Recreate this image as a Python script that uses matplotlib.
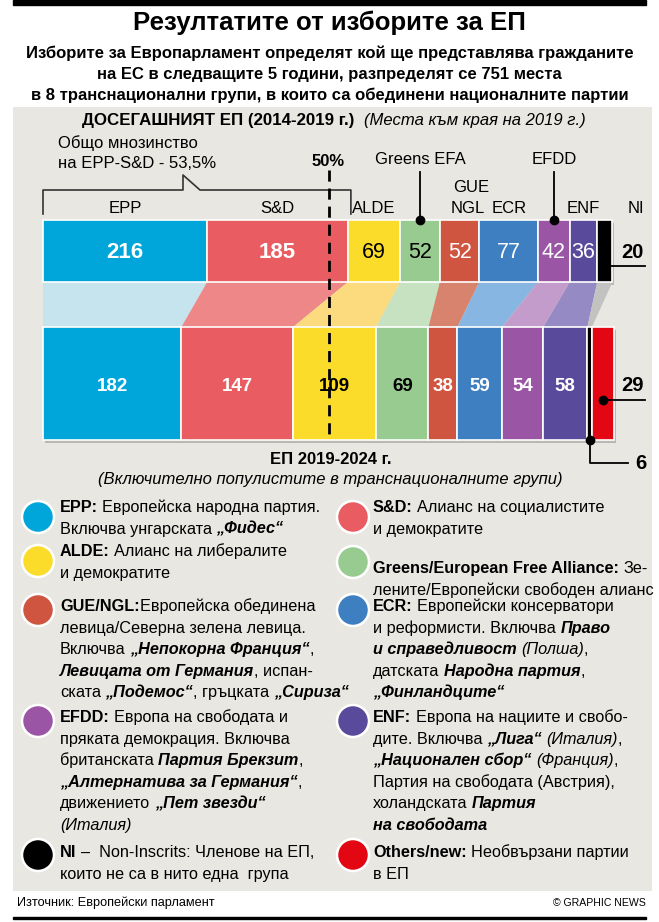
import matplotlib
matplotlib.use('Agg')
import matplotlib.pyplot as plt
from matplotlib.patches import Rectangle, Circle, Polygon
from matplotlib import font_manager as fm
import numpy as np

# ---- data ----
parties = ['EPP', 'S&D', 'ALDE', 'Greens EFA', 'GUE NGL', 'ECR', 'EFDD', 'ENF', 'NI', 'Others']
seats_old = [216, 185, 69, 52, 52, 77, 42, 36, 20]          # 2014-2019 (end of 2019)
seats_new = [182, 147, 109, 69, 38, 59, 54, 58, 6, 29]      # 2019-2024
total_seats = 751

title = 'Резултатите от изборите за ЕП'
subtitle = ['Изборите за Европарламент определят кой ще представлява гражданите',
            'на ЕС в следващите 5 години, разпределят се 751 места',
            'в 8 транснационални групи, в които са обединени националните партии']

# legend texts: runs of (text, style)  n=normal b=bold i=italic bi=bold italic
legend_left = [
    ('EPP', [[('EPP:', 'b'), (' Европейска народна партия.', 'n')],
             [('Включва унгарската ', 'n'), ('„Фидес“', 'bi')]]),
    ('ALDE', [[('ALDE:', 'b'), (' Алианс на либералите', 'n')],
              [('и демократите', 'n')]]),
    ('GUE NGL', [[('GUE/NGL:', 'b'), ('Европейска обединена', 'n')],
                 [('левица/Северна зелена левица.', 'n')],
                 [('Включва ', 'n'), ('„Непокорна Франция“', 'bi'), (',', 'n')],
                 [('Левицата от Германия', 'bi'), (', испан-', 'n')],
                 [('ската ', 'n'), ('„Подемос“', 'bi'), (', гръцката ', 'n'), ('„Сириза“', 'bi')]]),
    ('EFDD', [[('EFDD:', 'b'), (' Европа на свободата и', 'n')],
              [('пряката демокрация. Включва', 'n')],
              [('британската ', 'n'), ('Партия Брекзит', 'bi'), (',', 'n')],
              [('„Алтернатива за Германия“', 'bi'), (',', 'n')],
              [('движението ', 'n'), ('„Пет звезди“', 'bi')],
              [('(Италия)', 'i')]]),
    ('NI', [[('NI', 'b'), (' –  Non-Inscrits: Членове на ЕП,', 'n')],
            [('които не са в нито една  група', 'n')]]),
]
legend_right = [
    ('S&D', [[('S&D:', 'b'), (' Алианс на социалистите', 'n')],
             [('и демократите', 'n')]]),
    ('Greens EFA', [[('Greens/European Free Alliance:', 'b'), (' Зе-', 'n')],
                    [('лените/Европейски свободен алианс', 'n')]]),
    ('ECR', [[('ECR:', 'b'), (' Европейски консерватори', 'n')],
             [('и реформисти. Включва ', 'n'), ('Право', 'bi')],
             [('и справедливост', 'bi'), (' (Полша)', 'i'), (',', 'n')],
             [('датската ', 'n'), ('Народна партия', 'bi'), (',', 'n')],
             [('„Финландците“', 'bi')]]),
    ('ENF', [[('ENF:', 'b'), (' Европа на нациите и свобо-', 'n')],
             [('дите. Включва ', 'n'), ('„Лига“', 'bi'), (' (Италия)', 'i'), (',', 'n')],
             [('„Национален сбор“', 'bi'), (' (Франция)', 'i'), (',', 'n')],
             [('Партия на свободата (Австрия),', 'n')],
             [('холандската ', 'n'), ('Партия', 'bi')],
             [('на свободата', 'bi')]]),
    ('Others', [[('Others/new:', 'b'), (' Необвързани партии', 'n')],
                [('в ЕП', 'n')]]),
]

# ---- styles ----
colors = ['#00a6da', '#e95c61', '#fbdc2a', '#98cb8f', '#cf5540', '#3e7fc2',
          '#9a56a5', '#5a4a9b', '#000000', '#e30613']
ribbon_colors = ['#c5e4ee', '#ee8888', '#fcda7e', '#c6e2c0', '#d7836d', '#88b6e2',
                 '#c49ccb', '#958ac3', '#c2c2c0']
panel_color = '#e8e7e1'

try:
    fm.findfont('Liberation Sans Narrow', fallback_to_default=False)
    FAM = ['Liberation Sans Narrow', 'DejaVu Sans']
except Exception:
    FAM = ['Liberation Sans', 'DejaVu Sans']
plt.rcParams['font.family'] = FAM

W, H = 659, 922
fig = plt.figure(figsize=(W / 100, H / 100), dpi=100)
ax = fig.add_axes([0, 0, 1, 1])
ax.set_xlim(0, W)
ax.set_ylim(H, 0)
ax.axis('off')

# bar axes: x in seats, y in pixels
BX0, BX1 = 43, 614
bx = fig.add_axes([BX0 / W, 0, (BX1 - BX0) / W, 1], zorder=2)
bx.set_xlim(0, total_seats)
bx.set_ylim(H, 0)
bx.axis('off')
spp = total_seats / (BX1 - BX0)   # seats per pixel


def s(px):
    return (px - BX0) * spp


# frame
ax.add_patch(Rectangle((13, 0), 633, 5, color='black'))
ax.add_patch(Rectangle((13, 107), 639, 784, color=panel_color, lw=0))
ax.add_patch(Rectangle((13, 917), 633, 2, color='black'))

ax.text(W / 2, 23, title, ha='center', va='center', fontsize=18.5, fontweight='bold')
for i, line in enumerate(subtitle):
    ax.text(W / 2, 53 + i * 21, line, ha='center', va='center', fontsize=12, fontweight='bold')

ax.text(17, 903, 'Източник: Европейски парламент', ha='left', va='center', fontsize=9.2)
ax.text(646, 903, '© GRAPHIC NEWS', ha='right', va='center', fontsize=7.6)

# headers
renderer = fig.canvas.get_renderer()
t = ax.text(82, 120, 'ДОСЕГАШНИЯТ ЕП (2014-2019 г.)', ha='left', va='center',
            fontsize=12.2, fontweight='bold')
x_end = 82 + t.get_window_extent(renderer).width
ax.text(x_end + 10, 120, '(Места към края на 2019 г.)', ha='left', va='center',
        fontsize=12, fontstyle='italic')
ax.text(W / 2 + 1, 459, 'ЕП 2019-2024 г.', ha='center', va='center', fontsize=12, fontweight='bold')
ax.text(W / 2 + 1, 479, '(Включително популистите в транснационалните групи)', ha='center',
        va='center', fontsize=12, fontstyle='italic')

# ---- bars ----
old_left = np.concatenate([[0], np.cumsum(seats_old)[:-1]])
new_left = np.concatenate([[0], np.cumsum(seats_new)[:-1]])
TOP_Y0, TOP_Y1 = 220, 282
BOT_Y0, BOT_Y1 = 327, 440

# shadows
bx.barh((TOP_Y0 + TOP_Y1) / 2 + 3, sum(seats_old), height=TOP_Y1 - TOP_Y0, left=2 * spp,
        color='#b9b8b2', lw=0, clip_on=False, zorder=1)
bx.barh((BOT_Y0 + BOT_Y1) / 2 + 3, sum(seats_new), height=BOT_Y1 - BOT_Y0, left=2 * spp,
        color='#b9b8b2', lw=0, clip_on=False, zorder=1)

# ribbons between the two bars
for i in range(len(seats_old)):
    poly = Polygon([(old_left[i], TOP_Y1), (old_left[i] + seats_old[i], TOP_Y1),
                    (new_left[i] + seats_new[i], BOT_Y0), (new_left[i], BOT_Y0)],
                   closed=True, fc=ribbon_colors[i], ec='none', zorder=2 + i * 0.01)
    bx.add_patch(poly)

bx.barh((TOP_Y0 + TOP_Y1) / 2, seats_old, height=TOP_Y1 - TOP_Y0, left=old_left,
        color=colors[:len(seats_old)], edgecolor='white', lw=1.2, zorder=3, clip_on=False)
bx.barh((BOT_Y0 + BOT_Y1) / 2, seats_new, height=BOT_Y1 - BOT_Y0, left=new_left,
        color=colors, edgecolor='white', lw=1.2, zorder=3, clip_on=False)

# numbers in top bar
old_txt_col = ['white', 'white', 'black', 'black', 'white', 'white', 'white', 'white']
old_bold = [True, True, False, False, False, False, False, False]
for i in range(8):
    bx.text(old_left[i] + seats_old[i] / 2, 252, str(seats_old[i]), ha='center', va='center',
            fontsize=16 if old_bold[i] else 15.5, color=old_txt_col[i],
            fontweight='bold' if old_bold[i] else 'normal', zorder=5)
new_txt_col = ['white', 'white', 'black', 'black', 'white', 'white', 'white', 'white']
for i in range(8):
    bx.text(new_left[i] + seats_new[i] / 2, 386, str(seats_new[i]), ha='center', va='center',
            fontsize=13.5, color=new_txt_col[i], fontweight='bold', zorder=5)

# party labels over top bar
lab_fs = 12
for i in [0, 1, 2, 5, 7]:
    bx.text(old_left[i] + seats_old[i] / 2, 208, parties[i], ha='center', va='center', fontsize=lab_fs)
bx.text(old_left[4] + seats_old[4] / 2 + 12 * spp, 188, 'GUE', ha='center', va='center', fontsize=lab_fs)
bx.text(old_left[4] + seats_old[4] / 2 + 8 * spp, 208, 'NGL', ha='center', va='center', fontsize=lab_fs)
bx.text(s(636), 208, parties[8], ha='center', va='center', fontsize=lab_fs)
for i, name in [(3, 'Greens EFA'), (6, 'EFDD')]:
    xc = old_left[i] + seats_old[i] / 2
    bx.text(xc, 160, name, ha='center', va='center', fontsize=lab_fs)
    bx.plot([xc, xc], [172, TOP_Y0], color='black', lw=1.3, zorder=6, clip_on=False)
    bx.plot(xc, TOP_Y0, 'o', color='black', ms=6, zorder=6, clip_on=False)

# NI (old) pointer and label
xc = old_left[8] + seats_old[8] / 2
bx.plot([xc, s(645)], [266, 266], color='black', lw=1.3, zorder=6, clip_on=False)
bx.plot(xc, 266, 'o', color='black', ms=6, zorder=6, clip_on=False)
bx.text(s(632), 252, str(seats_old[8]), ha='center', va='center', fontsize=14.5, fontweight='bold')

# Others (new) pointer and label
xc = new_left[9] + seats_new[9] / 2
bx.plot([xc, s(645)], [400, 400], color='black', lw=1.3, zorder=6, clip_on=False)
bx.plot(xc, 400, 'o', color='black', ms=6, zorder=6, clip_on=False)
bx.text(s(632), 385, str(seats_new[9]), ha='center', va='center', fontsize=14.5, fontweight='bold')

# NI (new) pointer and label
xc = new_left[8] + seats_new[8] / 2
bx.plot([xc, xc, s(628)], [BOT_Y1, 463, 463], color='black', lw=1.3, zorder=6, clip_on=False)
bx.plot(xc, BOT_Y1, 'o', color='black', ms=6, zorder=6, clip_on=False)
bx.text(s(641), 463, str(seats_new[8]), ha='center', va='center', fontsize=14.5, fontweight='bold')

# 50% line
half = total_seats / 2
bx.plot([half, half], [170, BOT_Y1], color='black', lw=2, dashes=(4, 2.5), zorder=7, clip_on=False)
bx.text(half, 161, '50%', ha='center', va='center', fontsize=12, fontweight='bold')

# EPP-S&D bracket
x_l, x_r = 0, seats_old[0] + seats_old[1]
bx.plot([x_l, x_l, s(183), s(183), s(200), x_r + 3 * spp, x_r + 3 * spp],
        [214, 190, 190, 175, 190, 190, 214], color='#333333', lw=1.2, clip_on=False, zorder=4)
ax.text(58, 143, 'Общо мнозинство', ha='left', va='center', fontsize=12)
ax.text(58, 163, 'на EPP-S&D - 53,5%', ha='left', va='center', fontsize=12)

# ---- legend ----
LEG_FS = 11.7
space_w = {}


def font_kw(st):
    return dict(fontweight='bold' if 'b' in st else 'normal',
                fontstyle='italic' if 'i' in st else 'normal', fontsize=LEG_FS)


def width_of(txt, st):
    tt = ax.text(0, 0, txt, **font_kw(st))
    w = tt.get_window_extent(renderer).width
    tt.remove()
    return w


def sp(st):
    if st not in space_w:
        space_w[st] = width_of('x x', st) - width_of('xx', st)
    return space_w[st]


def draw_runs(x, yb, runs):
    for txt, st in runs:
        lead = len(txt) - len(txt.lstrip(' '))
        trail = len(txt) - len(txt.rstrip(' '))
        core = txt.strip(' ')
        x += lead * sp(st)
        if core:
            tt = ax.text(x, yb, core, ha='left', va='baseline', **font_kw(st))
            x += tt.get_window_extent(renderer).width
        x += trail * sp(st)


col_idx = {p: i for i, p in enumerate(parties)}
left_y = [507, 551, 606, 717, 852]
left_cy = [517, 561, 610, 721, 855]
right_y = [507, 568, 606, 717, 852]
right_cy = [517, 562, 610, 721, 855]
LINE_H = 21.6
for entries, ys, cys, cx, tx in [(legend_left, left_y, left_cy, 38, 60),
                                 (legend_right, right_y, right_cy, 353, 373)]:
    for (party, lines), y0, cy in zip(entries, ys, cys):
        ax.add_patch(Circle((cx, cy), 16, fc=colors[col_idx[party]], ec='white', lw=1.8))
        for k, runs in enumerate(lines):
            draw_runs(tx, y0 + k * LINE_H + 5, runs)

fig.savefig('out.png', dpi=100)
